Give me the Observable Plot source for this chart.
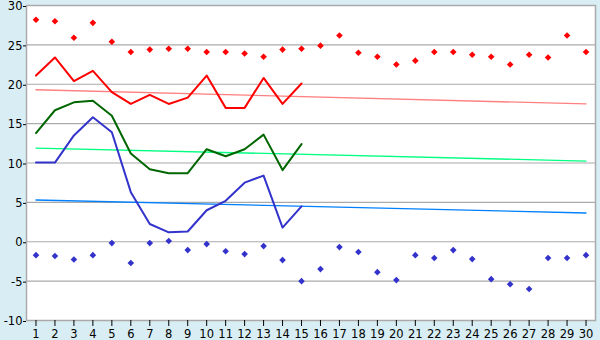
<!DOCTYPE html>
<html>
<head>
<meta charset="utf-8">
<script src="https://cdn.jsdelivr.net/npm/d3@7"></script>
<script src="https://cdn.jsdelivr.net/npm/@observablehq/plot@0.6"></script>
<style>
  html, body { margin: 0; padding: 0; background: #d8eef4; }
</style>
</head>
<body>
<div id="chart"></div>
<script>
const days = [1,2,3,4,5,6,7,8,9,10,11,12,13,14,15,16,17,18,19,20,21,22,23,24,25,26,27,28,29,30];
const maxPoints = [28.2,28.0,25.9,27.8,25.4,24.1,24.4,24.5,24.5,24.1,24.1,23.9,23.5,24.4,24.5,24.9,26.2,24.0,23.5,22.5,23.0,24.1,24.1,23.75,23.5,22.5,23.75,23.4,26.2,24.1];
const minPoints = [-1.7,-1.8,-2.25,-1.7,-0.17,-2.7,-0.17,0.1,-1.06,-0.3,-1.2,-1.57,-0.55,-2.33,-5.0,-3.47,-0.68,-1.3,-3.86,-4.87,-1.7,-2.07,-1.06,-2.2,-4.75,-5.4,-6.0,-2.07,-2.07,-1.7];
const lineDays = [1,2,3,4,5,6,7,8,9,10,11,12,13,14,15];
const redLine = [21.1,23.4,20.4,21.7,19.0,17.5,18.65,17.5,18.3,21.1,17.0,17.0,20.8,17.5,20.1];
const greenLine = [13.8,16.7,17.7,17.9,16.0,11.2,9.2,8.7,8.7,11.75,10.85,11.75,13.6,9.1,12.4];
const blueLine = [10.05,10.05,13.5,15.8,13.9,6.3,2.25,1.2,1.3,4.0,5.2,7.5,8.4,1.8,4.5];
const trendDays = [1,30];
const redTrend = [19.3,17.5];
const greenTrend = [11.9,10.25];
const blueTrend = [5.3,3.65];
const yTicks = [-10,-5,0,5,10,15,20,25,30];
const gridY = [-5,0,5,10,15,20,25,30];

const mk = (xs, ys) => xs.map((d, i) => ({x: d, y: ys[i]}));

// small square-ish diamond marker
const rhombus = {
  draw(ctx) {
    const s = 3.3;
    ctx.moveTo(0, -s); ctx.lineTo(s, 0); ctx.lineTo(0, s); ctx.lineTo(-s, 0); ctx.closePath();
  }
};

const chart = Plot.plot({
  width: 600,
  height: 340,
  marginLeft: 26,
  marginRight: 5,
  marginTop: 5,
  marginBottom: 20,
  style: {background: "#d8eef4", fontFamily: "DejaVu Sans", fontSize: "11.5px", color: "#000", overflow: "visible"},
  x: {domain: [0.5, 30.5]},
  y: {domain: [-10, 30]},
  marks: [
    Plot.frame({fill: "white", stroke: null}),
    Plot.ruleY(gridY, {stroke: "#aaaaaa", strokeWidth: 1.2}),
    Plot.line(mk(trendDays, redTrend), {x: "x", y: "y", stroke: "#ff8080", strokeWidth: 1.3}),
    Plot.line(mk(trendDays, greenTrend), {x: "x", y: "y", stroke: "#00ff80", strokeWidth: 1.3}),
    Plot.line(mk(trendDays, blueTrend), {x: "x", y: "y", stroke: "#0080ff", strokeWidth: 1.3}),
    Plot.line(mk(lineDays, redLine), {x: "x", y: "y", stroke: "#ff0000", strokeWidth: 2}),
    Plot.line(mk(lineDays, greenLine), {x: "x", y: "y", stroke: "#006600", strokeWidth: 2}),
    Plot.line(mk(lineDays, blueLine), {x: "x", y: "y", stroke: "#3333cc", strokeWidth: 2}),
    Plot.dot(mk(days, maxPoints), {x: "x", y: "y", symbol: rhombus, fill: "#ff0000"}),
    Plot.dot(mk(days, minPoints), {x: "x", y: "y", symbol: rhombus, fill: "#3333cc"}),
    Plot.frame({stroke: "#aaaaaa", strokeWidth: 1.5}),
    Plot.axisY({ticks: yTicks, tickSize: 3, tickPadding: 1, label: null, stroke: "#000", tickFormat: d => String(d), dy: 1}),
    Plot.axisX({ticks: days, tickSize: 6, tickPadding: 3, label: null, stroke: "#000"})
  ]
});
document.getElementById("chart").appendChild(chart);
</script>
</body>
</html>
